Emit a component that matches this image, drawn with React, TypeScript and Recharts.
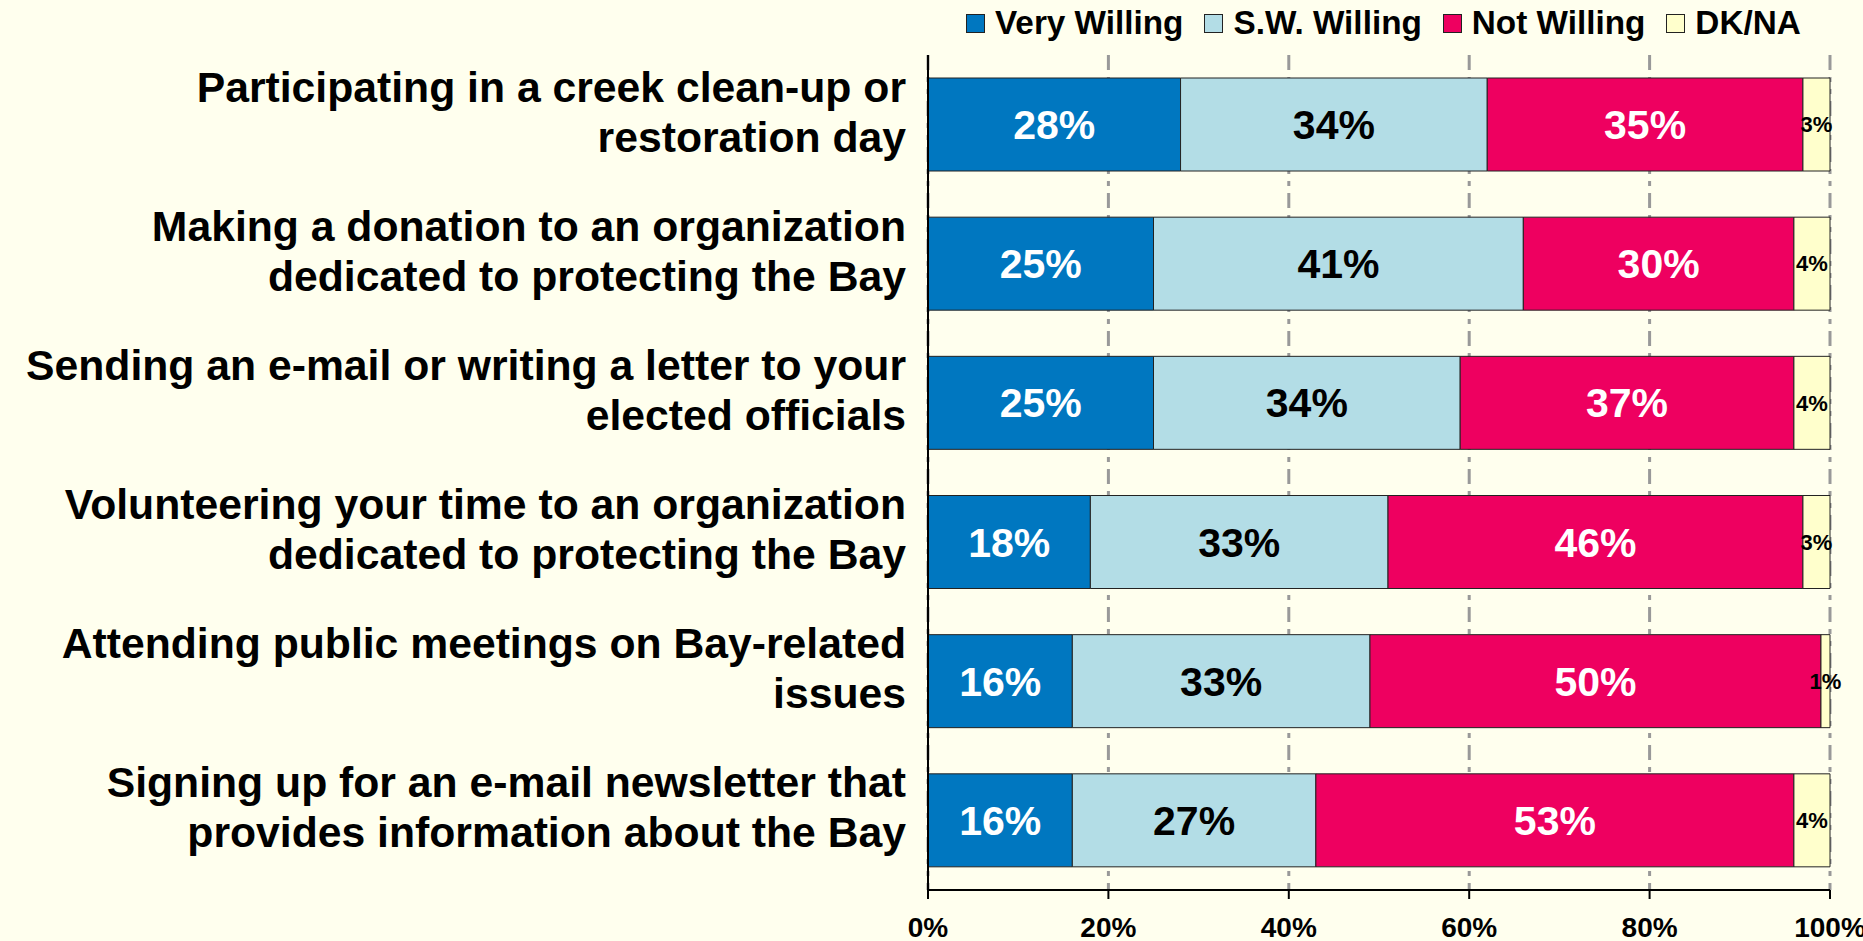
import { BarChart, Bar, XAxis, YAxis, CartesianGrid, LabelList } from 'recharts';

const categories = [
  'Participating in a creek clean-up or\nrestoration day',
  'Making a donation to an organization\ndedicated to protecting the Bay',
  'Sending an e-mail or writing a letter to your\nelected officials',
  'Volunteering your time to an organization\ndedicated to protecting the Bay',
  'Attending public meetings on Bay-related\nissues',
  'Signing up for an e-mail newsletter that\nprovides information about the Bay',
];
const veryWilling = [28, 25, 25, 18, 16, 16];
const swWilling = [34, 41, 34, 33, 33, 27];
const notWilling = [35, 30, 37, 46, 50, 53];
const dkna = [3, 4, 4, 3, 1, 4];
const xTicks = [0, 20, 40, 60, 80, 100];

const SERIES = [
  { key: 'very', name: 'Very Willing', color: '#0077C0', label: '#fff' },
  { key: 'sw', name: 'S.W. Willing', color: '#B3DDE6', label: '#000' },
  { key: 'not', name: 'Not Willing', color: '#EE0060', label: '#fff' },
  { key: 'dk', name: 'DK/NA', color: '#FFFFCC', label: '#000' },
];

const FONT = '"Liberation Sans", Arial, sans-serif';

const data = categories.map((name, i) => ({
  name,
  very: veryWilling[i],
  sw: swWilling[i],
  not: notWilling[i],
  dk: dkna[i],
}));

function CategoryTick({ y, payload }: any) {
  const lines = String(payload.value).split('\n');
  const lh = 50;
  const start = y - 13 - ((lines.length - 1) * lh) / 2;
  return (
    <text x={906} y={start} textAnchor="end" fontSize={42.7} fontWeight="bold" fill="#000" fontFamily={FONT}>
      {lines.map((l, i) => (
        <tspan key={i} x={906} y={start + i * lh} dominantBaseline="central">{l}</tspan>
      ))}
    </text>
  );
}

function PercentTick({ x, y, payload }: any) {
  return (
    <text x={x} y={y + 26} textAnchor="middle" fontSize={28} fontWeight="bold" fill="#000" fontFamily={FONT} dominantBaseline="central">
      {payload.value}%
    </text>
  );
}

function LegendBox() {
  return (
    <div style={{ position: 'absolute', top: 4, left: 966, display: 'flex', alignItems: 'center', fontFamily: FONT, fontWeight: 'bold', fontSize: 33.3, color: '#000', whiteSpace: 'nowrap' }}>
      {SERIES.map(s => (
        <div key={s.key} style={{ display: 'flex', alignItems: 'center', marginRight: 21 }}>
          <span style={{ width: 17, height: 17, background: s.color, border: '1px solid #222', marginRight: 10, display: 'inline-block' }} />
          <span>{s.name}</span>
        </div>
      ))}
    </div>
  );
}

export default function App() {
  return (
    <div style={{ position: 'fixed', left: 0, top: 0, width: 1863, height: 941, background: '#FFFFEE', overflow: 'hidden' }}>
      <BarChart
        width={1863}
        height={941}
        data={data}
        layout="vertical"
        margin={{ top: 55, right: 33, bottom: 0, left: 0 }}
        barSize={93}
      >
        <CartesianGrid horizontal={false} stroke="#999" strokeWidth={3} strokeDasharray="15 7 5 7 5 7" />
        <XAxis
          type="number"
          domain={[0, 100]}
          ticks={xTicks}
          interval={0}
          height={51}
          tick={<PercentTick />}
          tickLine={{ stroke: '#000', strokeWidth: 2 }}
          tickSize={9}
          axisLine={{ stroke: '#000', strokeWidth: 2 }}
        />
        <XAxis xAxisId="top" type="number" orientation="top" domain={[0, 100]} height={0} tick={false} tickLine={false} axisLine={{ stroke: '#000', strokeWidth: 3 }} />
        <YAxis
          type="category"
          dataKey="name"
          width={928}
          tick={<CategoryTick />}
          tickLine={false}
          interval={0}
          axisLine={{ stroke: '#000', strokeWidth: 2 }}
        />
        <YAxis yAxisId="right" type="category" dataKey="name" orientation="right" width={0} tick={false} tickLine={false} axisLine={{ stroke: '#000', strokeWidth: 2 }} />
        {SERIES.map(s => (
          <Bar key={s.key} dataKey={s.key} name={s.name} stackId="a" fill={s.color} stroke="#222" strokeWidth={1} isAnimationActive={false}>
            <LabelList
              dataKey={s.key}
              position="center"
              formatter={(v: any) => `${v}%`}
              fill={s.label}
              fontSize={s.key === 'dk' ? 22 : 41}
              fontWeight="bold"
              fontFamily={FONT}
            />
          </Bar>
        ))}
      </BarChart>
      <LegendBox />
    </div>
  );
}
